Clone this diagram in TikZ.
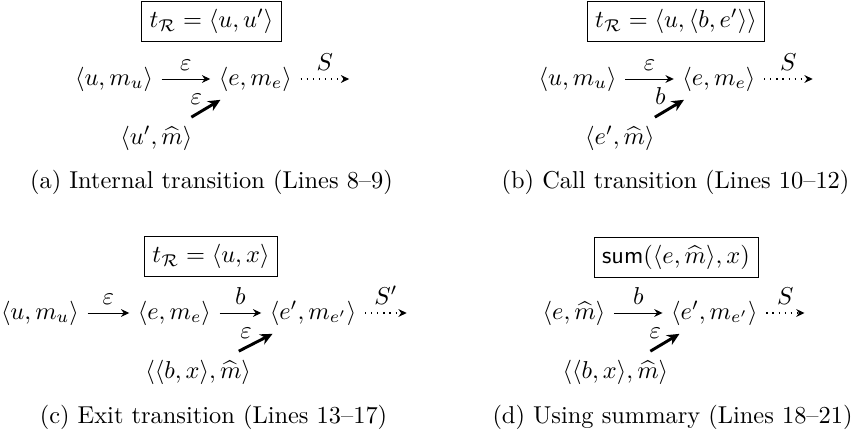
\documentclass[tikz,border=0pt]{standalone}
\usepackage{amsmath,amssymb}
\usetikzlibrary{arrows.meta,positioning}
\newcommand{\pair}[1]{\langle #1\rangle}
\tikzset{
  >={Stealth[length=3.4pt,width=3.2pt]},
  % Konfigurationen
  cfg/.style={inner sep=.3333em},
  sumbox/.style={draw,line width=0.4pt,inner sep=.3333em},
  % Kanten
  tr/.style={->,line width=0.4pt},
  run/.style={->,dotted,line width=0.5pt},
  ret/.style={-{Stealth[length=5pt,width=4.6pt]},line width=1.2pt},
  lbl/.style={inner sep=1pt},
  subcap/.style={inner sep=.3333em},
}
\begin{document}
\begin{tikzpicture}[node distance=0.7cm]
  \useasboundingbox (0,0) rectangle (12.386,-6.323);
  % (a) interne Transition
  \node[sumbox] (ta) at (3.046,-0.310) {$t_{\mathcal{R}} = \pair{u,u'}$};
  \node[cfg] (a1) at (1.642,-1.138) {$\pair{u,m_u}$};
  \node[cfg,right=of a1] (a2) {$\pair{e,m_e}$};
  \coordinate[right=of a2] (a3);
  \node[cfg] (a4) at ([shift={(-1.426,-0.850)}]a2) {$\pair{u',\widehat{m}}$};
  \draw[tr] (a1) -- node[above]{$\varepsilon$} (a2);
  \draw[run] (a2) -- node[above]{$S$} (a3);
  \draw[ret] (a4) -- node[lbl,above left]{$\varepsilon$} (a2);
  \node[subcap] (capa) at (3.046,-2.629) {(a) Internal transition (Lines 8--9)};
  % (b) Aufruf
  \node[sumbox] (tb) at (9.736,-0.310) {$t_{\mathcal{R}} = \pair{u,\pair{b,e'}}$};
  \node[cfg] (b1) at (8.318,-1.138) {$\pair{u,m_u}$};
  \node[cfg,right=of b1] (b2) {$\pair{e,m_e}$};
  \coordinate[right=of b2] (b3);
  \node[cfg] (b4) at ([shift={(-1.426,-0.850)}]b2) {$\pair{e',\widehat{m}}$};
  \draw[tr] (b1) -- node[above]{$\varepsilon$} (b2);
  \draw[run] (b2) -- node[above]{$S$} (b3);
  \draw[ret] (b4) -- node[lbl,above left]{$b$} (b2);
  \node[subcap] (capb) at (9.729,-2.629) {(b) Call transition (Lines 10--12)};
  % (c) Ruecksprung
  \begin{scope}[node distance=0.6cm]
  \node[sumbox] (tc) at (3.039,-3.694) {$t_{\mathcal{R}} = \pair{u,x}$};
  \node[cfg] (c1) at (0.576,-4.508) {$\pair{u,m_u}$};
  \node[cfg,right=of c1] (c2) {$\pair{e,m_e}$};
  \node[cfg,right=of c2] (c3) {$\pair{e',m_{e'}}$};
  \coordinate[right=of c3] (c4);
  \node[cfg] (c5) at ([shift={(-1.656,-0.850)}]c3) {$\pair{\pair{b,x},\widehat{m}}$};
  \draw[tr] (c1) -- node[above]{$\varepsilon$} (c2);
  \draw[tr] (c2) -- node[above]{$b$} (c3);
  \draw[run] (c3) -- node[above]{$S'$} (c4);
  \draw[ret] (c5) -- node[lbl,above left]{$\varepsilon$} (c3);
  \end{scope}
  \node[subcap] (capc) at (3.075,-6.013) {(c) Exit transition (Lines 13--17)};
  % (d) Zusammenfassung
  \node[sumbox] (td) at (9.736,-3.709) {$\mathsf{sum}(\pair{e,\widehat{m}},x)$};
  \node[cfg] (d1) at (8.267,-4.508) {$\pair{e,\widehat{m}}$};
  \node[cfg,right=of d1] (d2) {$\pair{e',m_{e'}}$};
  \coordinate[right=0.55cm of d2] (d3);
  \node[cfg] (d4) at ([shift={(-1.426,-0.850)}]d2) {$\pair{\pair{b,x},\widehat{m}}$};
  \draw[tr] (d1) -- node[above]{$b$} (d2);
  \draw[run] (d2) -- node[above]{$S$} (d3);
  \draw[ret] (d4) -- node[lbl,above left]{$\varepsilon$} (d2);
  \node[subcap] (capd) at (9.686,-6.013) {(d) Using summary (Lines 18--21)};
\end{tikzpicture}
\end{document}
